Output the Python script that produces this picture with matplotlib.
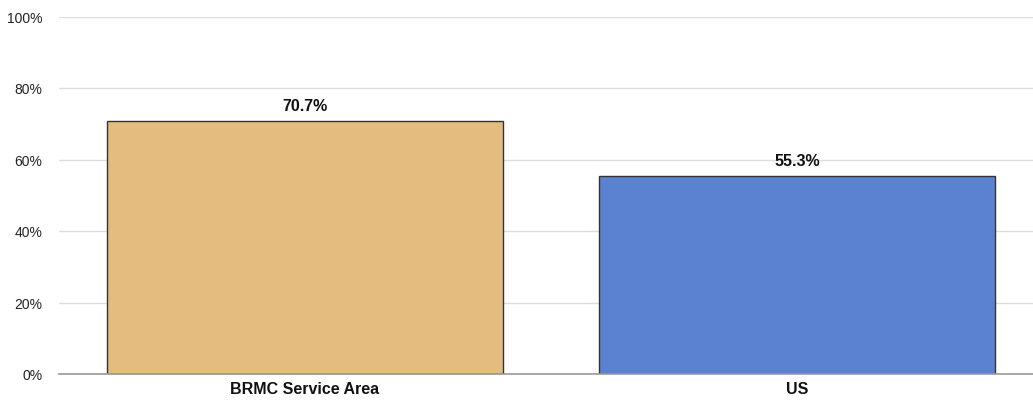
import matplotlib
matplotlib.use("Agg")
import matplotlib.pyplot as plt
from matplotlib.ticker import FuncFormatter

categories = ["BRMC Service Area", "US"]
values = [70.7, 55.3]
colors = ["#E4BC7F", "#5A82D0"]
yticks = [0, 20, 40, 60, 80, 100]

plt.rcParams['font.family'] = ['Liberation Sans', 'DejaVu Sans']

fig = plt.figure(figsize=(10.33, 4.10), dpi=100)
ax = fig.add_axes([59/1033, 35/410, 1 - 59/1033, (375-17.5)/410])

x = list(range(len(categories)))
ax.bar(x, values, width=0.805, color=colors, edgecolor="#333333", linewidth=1.0, zorder=3)
for xi, v in zip(x, values):
    ax.annotate(f"{v:.1f}%", (xi, v), xytext=(0, 6), textcoords="offset points",
                ha="center", va="bottom", fontsize=11.5, fontweight="bold", color="#111111")

ax.set_xlim(-0.5, 1.48)
ax.set_ylim(0, 100)
ax.set_yticks(yticks)
ax.yaxis.set_major_formatter(FuncFormatter(lambda v, p: f"{v:.0f}%"))
ax.set_xticks(x)
ax.set_xticklabels(categories, fontsize=11.5, fontweight="bold", color="#111111")
ax.tick_params(axis="y", labelsize=10, labelcolor="#222222", length=0, pad=12)
ax.tick_params(axis="x", length=0, pad=5)
ax.grid(axis="y", color="#DDDDDD", linewidth=1.0, zorder=0)
for s in ["top", "right", "left"]:
    ax.spines[s].set_visible(False)
ax.spines["bottom"].set_color("#999999")
ax.spines["bottom"].set_linewidth(1.2)
ax.spines["bottom"].set_zorder(4)

fig.savefig("out.png", dpi=100)
